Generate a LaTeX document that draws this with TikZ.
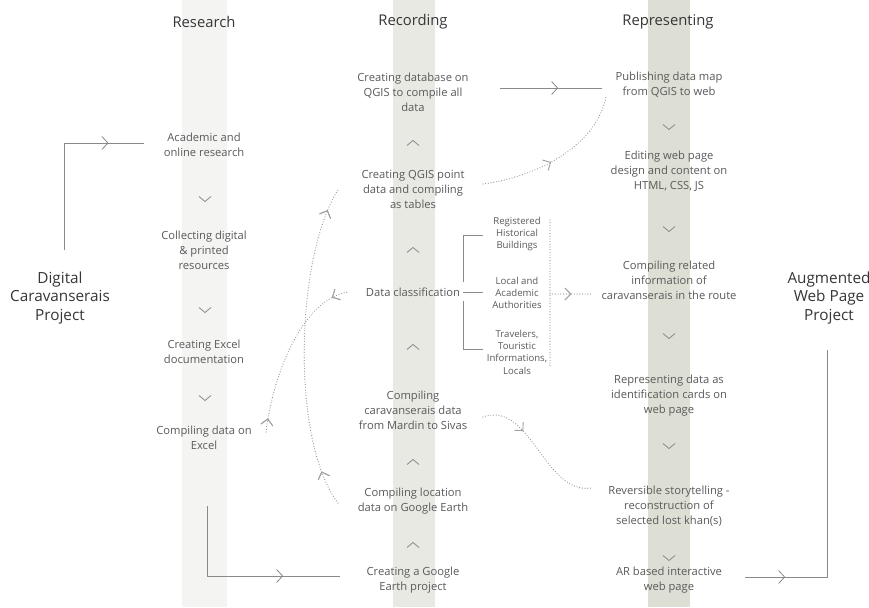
\documentclass[tikz,border=0pt]{standalone}
\usepackage{fontspec}
\setmainfont{Open Sans}
\usetikzlibrary{arrows.meta,decorations.markings,calc}

\definecolor{bandA}{HTML}{F4F4F2}
\definecolor{bandB}{HTML}{E8E9E3}
\definecolor{bandC}{HTML}{DDDED4}
\definecolor{txt}{HTML}{5A5A5A}
\definecolor{ink}{HTML}{363636}
\definecolor{wire}{HTML}{8A8A8A}
\definecolor{dots}{HTML}{959595}
\definecolor{dottipc}{HTML}{A0A0A0}

\tikzset{
  stepbox/.style={align=center, text=txt, inner sep=0pt,
    font=\fontsize{11.2}{15}\selectfont},
  headbox/.style={text=ink, inner sep=0pt, font=\fontsize{14.8}{18}\selectfont},
  bigbox/.style={align=center, text=ink, inner sep=0pt,
    font=\fontsize{15.3}{18.5}\selectfont},
  subbox/.style={align=center, text=txt, inner sep=0pt,
    font=\fontsize{9.6}{12.3}\selectfont},
  flowline/.style={draw=wire, line width=0.8pt},
  dotline/.style={draw=dots, line width=1.2pt, line cap=round,
    dash pattern=on 0pt off 2.7pt},
  midtip/.style={postaction={decorate}, decoration={markings,
    mark=at position #1 with {\arrow{Straight Barb[length=6pt,width=13pt,line width=0.8pt]}}}},
  dottip/.style={postaction={decorate}, decoration={markings,
    mark=at position #1 with {\arrow[dottipc]{Straight Barb[length=6pt,width=12pt,line width=0.9pt]}}}},
  dottipback/.style={postaction={decorate}, decoration={markings,
    mark=at position #1 with {\arrowreversed[dottipc]{Straight Barb[length=6pt,width=12pt,line width=0.9pt]}}}},
  downchev/.pic={\draw[flowline] (-6,-2.5) -- (0,2.5) -- (6,-2.5);},
  upchev/.pic={\draw[flowline] (-6,2.5) -- (0,-2.5) -- (6,2.5);},
}

\begin{document}
\begin{tikzpicture}[x=1pt,y=-1pt]
  \useasboundingbox (0,0) rectangle (869,607);
  \fill[white] (0,0) rectangle (869,607);

  % column bands
  \fill[bandA] (182,0) rectangle (227,607);
  \fill[bandB] (393,0) rectangle (435,607);
  \fill[bandC] (648,0) rectangle (690,607);

  % headings
  \node[headbox] (hres) at (204,22) {Research};
  \node[headbox] (hrec) at (413,22) {Recording};
  \node[headbox] (hrep) at (668,22) {Representing};

  % project ends
  \node[bigbox] (dcp) at (60,298) {Digital\\Caravanserais\\Project};
  \node[bigbox] (awp) at (829,298) {Augmented\\Web Page\\Project};

  % research steps
  \node[stepbox] (r1) at (204,145) {Academic and\\online research};
  \node[stepbox] (r2) at (204,250) {Collecting digital\\\& printed\\resources};
  \node[stepbox] (r3) at (204,352) {Creating Excel\\documentation};
  \node[stepbox] (r4) at (204,438) {Compiling data on\\Excel};
  \pic at (205,199) {downchev};
  \pic at (205,310) {downchev};
  \pic at (205,398) {downchev};

  % recording steps
  \node[stepbox] (c1) at (413,92) {Creating database on\\QGIS to compile all\\data};
  \node[stepbox] (c2) at (413,189) {Creating QGIS point\\data and compiling\\as tables};
  \node[stepbox] (c3) at (413,292) {Data classification};
  \node[stepbox] (c4) at (413,410) {Compiling\\caravanserais data\\from Mardin to Sivas};
  \node[stepbox] (c5) at (413,501) {Compiling location\\data on Google Earth};
  \node[stepbox] (c6) at (413,580) {Creating a Google\\Earth project};
  \pic at (413,143) {upchev};
  \pic at (413,250) {upchev};
  \pic at (413,347) {upchev};
  \pic at (413,462) {upchev};
  \pic at (413,545) {upchev};

  % classification sources
  \node[subbox] (s1) at (517,234) {Registered\\Historical\\Buildings};
  \node[subbox] (s2) at (517,293) {Local and\\Academic\\Authorities};
  \node[subbox] (s3) at (517,352) {Travelers,\\Touristic\\Informations,\\Locals};

  % representing steps
  \node[stepbox] (p1) at (669,85) {Publishing data map\\from QGIS to web};
  \node[stepbox] (p2) at (669,171) {Editing web page\\design and content on\\HTML, CSS, JS};
  \node[stepbox] (p3) at (669,280) {Compiling related\\information of\\caravanserais in the route};
  \node[stepbox] (p4) at (669,396) {Representing data as\\identification cards on\\web page};
  \node[stepbox] (p5) at (669,506) {Reversible storytelling -\\reconstruction of\\selected lost khan(s)};
  \node[stepbox] (p6) at (669,580) {AR based interactive\\web page};
  \pic at (669,127) {downchev};
  \pic at (669,229) {downchev};
  \pic at (669,336) {downchev};
  \pic at (669,446) {downchev};
  \pic at (669,558) {downchev};

  % connector end points
  \coordinate (dcpOut) at (64,250);
  \coordinate (r1In) at (144,143);
  \coordinate (r4Out) at (207,506);
  \coordinate (c6In) at (340,576);
  \coordinate (c1Out) at (500,88);
  \coordinate (p1In) at (602,88);
  \coordinate (p6Out) at (745,577);
  \coordinate (awpIn) at (827,350);

  % solid flow lines
  \draw[flowline, midtip=0.81] (dcpOut) |- (r1In);
  \draw[flowline, midtip=0.72] (r4Out) |- (c6In);
  \draw[flowline, midtip=0.57] (c1Out) -- (p1In);
  \draw[flowline, midtip=0.13] (p6Out) -| (awpIn);

  % classification bracket
  \coordinate (brTop) at (463,282);
  \coordinate (brBot) at (463,301);
  \coordinate (s1In) at (483,235);
  \coordinate (s2In) at (483,292);
  \coordinate (s3In) at (483,349);
  \draw[flowline] (brTop) |- (s1In);
  \draw[flowline] (brBot) |- (s3In);
  \draw[flowline] (c3.east -| brTop) -- (s2In);

  % dotted links
  \coordinate (gatherTop) at (550,220);
  \coordinate (gatherBot) at (550,368);
  \coordinate (gatherMid) at (550,294);
  \coordinate (p3In) at (593,294);
  \draw[dotline] (gatherTop) -- (gatherBot);
  \draw[dotline, dottip=0.5] (gatherMid) -- (p3In);

  \coordinate (c2Out) at (483,184);
  \coordinate (p1Low) at (606,97);
  \draw[dotline, dottip=0.45] (c2Out) .. controls (530,178) and (595,150) .. (p1Low);

  \coordinate (r4Side) at (266,432);
  \coordinate (c3West) at (348,292);
  \draw[dotline, dottip=0.08, dottipback=0.9] (r4Side) .. controls (272,380) and (300,300) .. (c3West);

  \coordinate (c5West) at (338,503);
  \coordinate (c2West) at (338,190);
  \draw[dotline, dottip=0.11, dottip=0.93] (c5West) .. controls (290,440) and (296,255) .. (c2West);

  \coordinate (c4East) at (483,417);
  \coordinate (p5West) at (591,488);
  \draw[dotline, dottip=0.33] (c4East) .. controls (530,400) and (545,495) .. (p5West);
\end{tikzpicture}
\end{document}
